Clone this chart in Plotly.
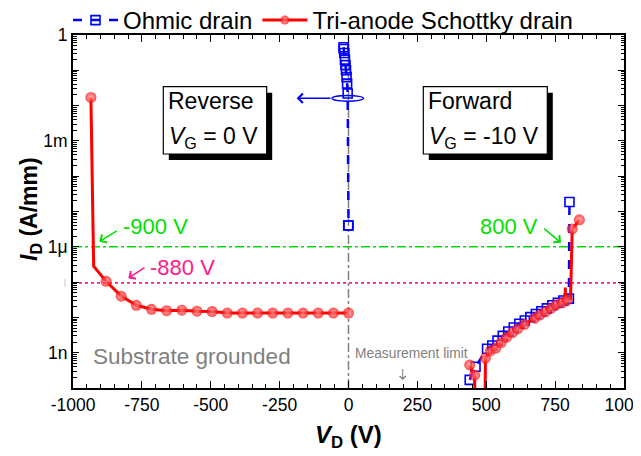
import plotly.graph_objects as go

# ---------------- data ----------------
# Tri-anode Schottky drain, reverse sweep (V_G = 0 V)
red_rev_v = [-935, -925, -880, -825, -770, -715, -660, -605, -550, -495, -440,
             -385, -330, -275, -220, -165, -110, -55, 0]
red_rev_i = [1.7e-2, 2.8e-7, 1.05e-7, 4.0e-8, 2.2e-8, 1.7e-8, 1.55e-8, 1.6e-8,
             1.5e-8, 1.47e-8, 1.33e-8, 1.33e-8, 1.33e-8, 1.33e-8, 1.33e-8,
             1.33e-8, 1.33e-8, 1.33e-8, 1.33e-8]
# Tri-anode Schottky drain, forward sweep (V_G = -10 V)
red_fwd_v = [440, 458, 461, 494, 497, 515, 535, 554, 573, 595, 614, 639, 676,
             694, 715, 736, 755, 776, 786, 787, 788, 794, 806, 812, 838]
red_fwd_i = [4.5e-10, 2.3e-10, 1e-12, 1e-12, 7.0e-10, 1.12e-9, 1.35e-9, 1.94e-9,
             2.7e-9, 3.7e-9, 4.7e-9, 6.4e-9, 9.5e-9, 1.17e-8, 1.44e-8, 1.83e-8,
             2.29e-8, 2.6e-8, 2.9e-8, 7.0e-8, 3.0e-8, 3.1e-8, 3.4e-8, 3.2e-6, 5.8e-6]
red_unmarked_v = [-925, 461, 494, 786, 787, 788, 806]

# Ohmic drain
blue_rev_v = [-18, -17, -15, -13, -11, -9, -7, -5, -3, -1, 0]
blue_rev_i = [0.45, 0.40, 0.31, 0.20, 0.14, 0.10, 0.064, 0.042, 0.022, 4e-6, 4e-6]
blue_fwd_v = [440, 461, 503, 522, 541, 560, 580, 600, 620, 640, 660, 680, 700,
              720, 740, 760, 780, 800, 802]
blue_fwd_i = [1.7e-10, 4.0e-10, 1.3e-9, 1.6e-9, 2.2e-9, 3.0e-9, 4.0e-9, 5.2e-9,
              6.6e-9, 8.2e-9, 1.02e-8, 1.25e-8, 1.5e-8, 1.8e-8, 2.2e-8, 2.6e-8,
              3.0e-8, 3.4e-8, 1.85e-5]

x_tickvals = [-1000, -750, -500, -250, 0, 250, 500, 750, 1000]
x_ticktext = ["-1000", "-750", "-500", "-250", "0", "250", "500", "750", "1000"]
y_tickvals = [1, 1e-1, 1e-2, 1e-3, 1e-4, 1e-5, 1e-6, 1e-7, 1e-8, 1e-9, 1e-10]
y_ticktext = ["1", "", "", "1m", "", "", "1\u03bc", "", "", "1n", ""]

crit_green = 1e-6     # green criterion line
crit_pink = 9.5e-8    # pink criterion line

# ---------------- layout geometry ----------------
W, H = 641, 456
OFF = 8                       # page body margin in the browser
SL, ST, SW, SH = 73, 35, 551, 353   # plot area as seen on screen
ML, MT = SL - OFF, ST - OFF
MR, MB = W - ML - SW, H - MT - SH


def px(X):
    return (X - SL) / SW


def py(Y):
    return (ST + SH - Y) / SH


FONT = "Liberation Sans, Arial, sans-serif"
BLUE = "#0000ff"
RED = "#ff0000"
GREEN = "#00e000"
PINK = "#ff1a8c"
GRAY = "#808080"

fig = go.Figure()

blue_x = blue_rev_v + [None] + blue_fwd_v
blue_y = blue_rev_i + [None] + blue_fwd_i
fig.add_trace(go.Scatter(
    x=blue_x, y=blue_y, mode="lines+markers", name="Ohmic drain",
    line=dict(color=BLUE, width=2.5, dash="dash"),
    marker=dict(symbol="square-open", size=9, color=BLUE, line=dict(width=1.6, color=BLUE)),
    connectgaps=False,
))

red_x = red_rev_v + [None] + red_fwd_v
red_y = red_rev_i + [None] + red_fwd_i
red_sizes = [0 if v in red_unmarked_v else 11 for v in red_rev_v] + [0] + \
            [0 if v in red_unmarked_v else 11 for v in red_fwd_v]
fig.add_trace(go.Scatter(
    x=red_x, y=red_y, mode="lines+markers", name="Tri-anode Schottky drain",
    line=dict(color=RED, width=3),
    marker=dict(symbol="circle", size=red_sizes, color=RED,
                gradient=dict(type="radial", color="#ff9c9c"),
                line=dict(width=0)),
    connectgaps=False,
))

shapes = []
shapes.append(dict(type="line", xref="paper", yref="y", x0=0, x1=1,
                   y0=crit_green, y1=crit_green,
                   line=dict(color=GREEN, width=1.6, dash="dashdot"), layer="below"))
shapes.append(dict(type="line", xref="paper", yref="y", x0=0, x1=1,
                   y0=crit_pink, y1=crit_pink,
                   line=dict(color=PINK, width=1.6, dash="dot"), layer="below"))
shapes.append(dict(type="line", xref="x", yref="paper", x0=0, x1=0, y0=0, y1=1,
                   line=dict(color=GRAY, width=1.5, dash="dashdot"), layer="below"))
# tiny grey mark left of the axis (as in the reference)
shapes.append(dict(type="line", xref="paper", yref="paper", x0=px(65), x1=px(65),
                   y0=py(279), y1=py(287), line=dict(color="#c8c8c8", width=1)))

for (x0, y0, x1, y1) in [(163.3, 86.7, 266.7, 154), (423.3, 86.7, 547.3, 154)]:
    shapes.append(dict(type="rect", xref="paper", yref="paper",
                       x0=px(x0 + 5.5), x1=px(x1 + 5.5), y0=py(y0 + 6), y1=py(y1 + 6),
                       fillcolor="black", line=dict(width=0)))
    shapes.append(dict(type="rect", xref="paper", yref="paper",
                       x0=px(x0), x1=px(x1), y0=py(y0), y1=py(y1),
                       fillcolor="white", line=dict(color="black", width=1.2)))
shapes.append(dict(type="circle", xref="paper", yref="paper",
                   x0=px(332), x1=px(363.5), y0=py(95.5), y1=py(101.2),
                   line=dict(color=BLUE, width=1.4)))

ann = []


def text(X, Y, s, size, color="black", xanchor="left", angle=0):
    ann.append(dict(xref="paper", yref="paper", x=px(X), y=py(Y), text=s,
                    showarrow=False, xanchor=xanchor, yanchor="middle", textangle=angle,
                    font=dict(family=FONT, size=size, color=color)))


def arrow(tipX, tipY, tailX, tailY, color, head=4, width=1.5, size=1.2):
    ann.append(dict(xref="paper", yref="paper", x=px(tipX), y=py(tipY), text=" ",
                    showarrow=True, ax=tailX - tipX, ay=tailY - tipY,
                    arrowhead=head, arrowwidth=width, arrowsize=size, arrowcolor=color,
                    font=dict(size=1)))


text(166, 100.5, "Reverse", 23)
text(166.5, 137, "<i>V</i><sub>G</sub> = 0 V", 23)
text(426, 100.5, "Forward", 23)
text(426.5, 137, "<i>V</i><sub>G</sub> = -10 V", 23)
text(121, 226, "-900 V", 22, GREEN)
text(148, 267, "-880 V", 22, PINK)
text(478, 226, "800 V", 22, GREEN)
text(91, 356, "Substrate grounded", 22.5, GRAY)
text(353, 353, "Measurement limit", 13.8, GRAY)
# axis titles
text(348, 437, "<b><i>V</i><sub>D</sub> (V)</b>", 24, xanchor="center")
text(30, 209, "<b><i>I</i><sub>D</sub> (A/mm)</b>", 23, xanchor="center", angle=-90)

arrow(99.3, 241.7, 118.3, 230, GREEN)
arrow(128.3, 278.3, 146, 266.7, PINK)
arrow(561, 242.7, 542.7, 227.3, GREEN)
arrow(296.7, 98.3, 332, 98.3, BLUE, head=4, width=1.4, size=1.3)
arrow(402.7, 380, 402.7, 367, GRAY, head=4, width=1, size=1.2)

fig.update_layout(
    width=W, height=H,
    margin=dict(l=ML, r=MR, t=MT, b=MB, pad=0, autoexpand=False),
    paper_bgcolor="white", plot_bgcolor="white",
    font=dict(family=FONT, size=17.5, color="black"),
    shapes=shapes, annotations=ann,
    showlegend=True,
    legend=dict(orientation="h", x=px(68), y=py(-2), xanchor="left", yanchor="top",
                font=dict(family=FONT, size=24, color="black"),
                bgcolor="rgba(0,0,0,0)", itemwidth=45, tracegroupgap=0,
                traceorder="normal"),
)

fig.update_xaxes(
    range=[-1000, 1000], tickvals=x_tickvals, ticktext=x_ticktext,
    ticks="inside", ticklen=7, tickwidth=1, tickcolor="black",
    minor=dict(dtick=50, ticks="inside", ticklen=4, tickwidth=1, tickcolor="black"),
    showline=True, linecolor="black", linewidth=2, mirror="allticks",
    showgrid=False, zeroline=False, automargin=False, ticklabeloverflow="allow",
    tickfont=dict(family=FONT, size=17.5),
)
fig.update_yaxes(
    type="log", range=[-10, 0], tickvals=y_tickvals, ticktext=y_ticktext,
    ticks="inside", ticklen=6, tickwidth=1, tickcolor="black",
    minor=dict(dtick="D1", ticks="inside", ticklen=3.5, tickwidth=1, tickcolor="black"),
    showline=True, linecolor="black", linewidth=2, mirror="allticks",
    showgrid=False, zeroline=False, automargin=False, ticklabeloverflow="allow",
    tickfont=dict(family=FONT, size=17.5),
)

fig.write_html("out.html")
